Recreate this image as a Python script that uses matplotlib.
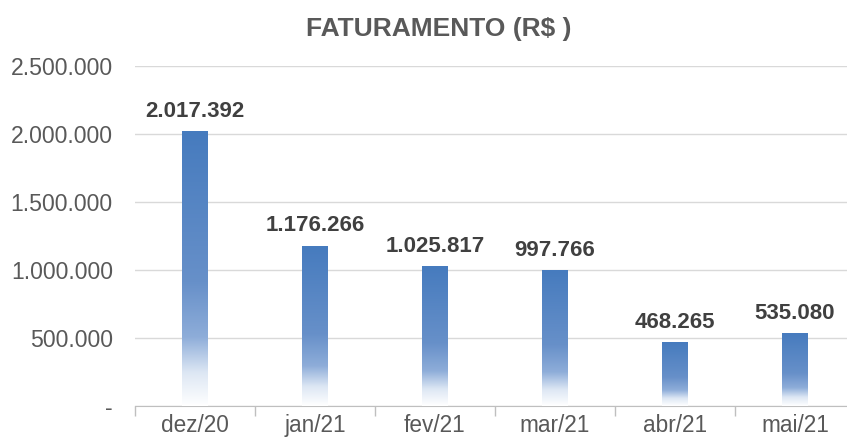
import numpy as np
import matplotlib.pyplot as plt
from matplotlib.colors import LinearSegmentedColormap
from matplotlib.ticker import FixedLocator

plt.rcParams['font.family'] = ['Liberation Sans', 'DejaVu Sans']

months = ['dez/20', 'jan/21', 'fev/21', 'mar/21', 'abr/21', 'mai/21']
faturamento = [2017392, 1176266, 1025817, 997766, 468265, 535080]
yticks = [0, 500000, 1000000, 1500000, 2000000, 2500000]
ytick_labels = ['-', '500.000', '1.000.000', '1.500.000', '2.000.000', '2.500.000']


def fmt(v):
    return f'{v:,}'.replace(',', '.')


# bottom (white) -> top (blue), like the Excel gradient fill
grad = LinearSegmentedColormap.from_list('fade', [
    (0.0, '#ffffff'),
    (0.12, '#dde7f4'),
    (0.25, '#8eadd9'),
    (0.45, '#6790c9'),
    (1.0, '#467bbe'),
])

fig = plt.figure(figsize=(8.47, 4.41), dpi=100)
# plot area runs past the right edge, like the cropped original
ax = fig.add_axes([0.1594, 0.0794, 0.850, 0.771])

w = 0.215
g = np.linspace(0, 1, 256).reshape(-1, 1)
for i, v in enumerate(faturamento):
    ax.imshow(g, extent=[i - w / 2, i + w / 2, 0, v], origin='lower',
              aspect='auto', cmap=grad, zorder=3, interpolation='bilinear')
    ax.text(i, v + 70000, fmt(v), ha='center', va='bottom', fontsize=16,
            fontweight='bold', color='#404040', zorder=4)

ax.set_xlim(-0.5, len(months) - 0.5)
ax.set_ylim(0, 2500000)

ax.set_yticks(yticks)
ax.set_yticklabels(ytick_labels)
ax.tick_params(axis='y', length=0, pad=16, labelsize=16.6, labelcolor='#595959')
ax.grid(axis='y', color='#d9d9d9', lw=1, zorder=0)

ax.set_xticks(range(len(months)))
ax.set_xticklabels(months)
ax.tick_params(axis='x', which='major', length=0, pad=6, labelsize=16.3,
               labelcolor='#595959')
ax.xaxis.set_minor_locator(FixedLocator(np.arange(-0.5, len(months), 1.0)))
ax.tick_params(axis='x', which='minor', length=7, color='#bfbfbf', width=1)

for s in ['top', 'right', 'left']:
    ax.spines[s].set_visible(False)
ax.spines['bottom'].set_color('#bfbfbf')
ax.set_axisbelow(True)

fig.text(0.518, 0.935, 'FATURAMENTO (R$ )', ha='center', va='center',
         fontsize=19, fontweight='bold', color='#595959')

fig.savefig('out.png', dpi=100)
